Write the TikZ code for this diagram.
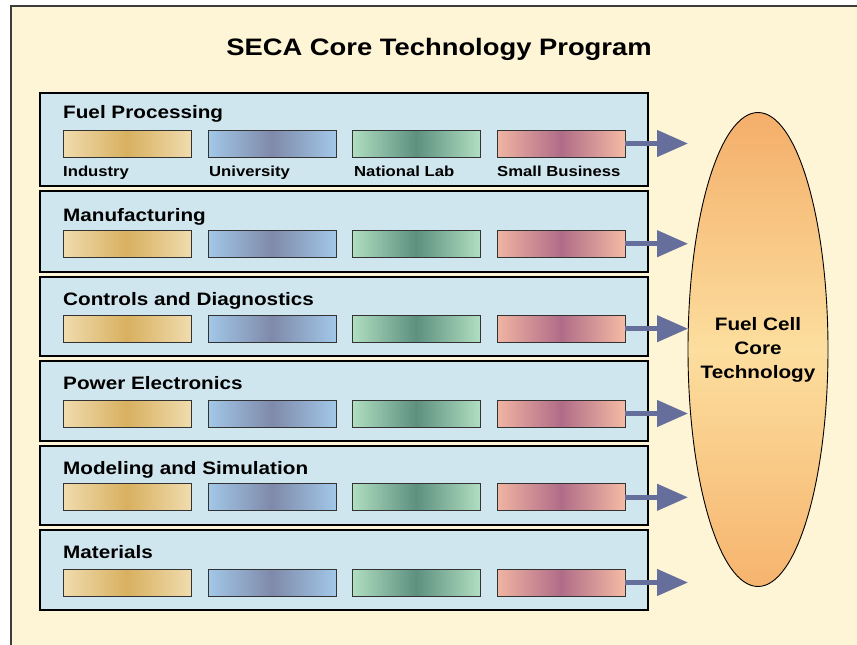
\documentclass[tikz,border=0pt]{standalone}
\usepackage{fontspec}
\setmainfont{Liberation Sans}[FakeStretch=1.15]
\usetikzlibrary{arrows.meta,shapes.geometric,shadows,positioning}
\definecolor{paper}{HTML}{FEF5D6}
\definecolor{frame}{HTML}{3C3C3C}
\definecolor{rowblue}{HTML}{D0E6EE}
\definecolor{flowcol}{HTML}{666E9C}
\definecolor{goldL}{HTML}{F0DCAE}\definecolor{goldM}{HTML}{D8B060}\definecolor{goldR}{HTML}{F0DCAE}
\definecolor{blueL}{HTML}{A2C8E8}\definecolor{blueM}{HTML}{7F89AA}\definecolor{blueR}{HTML}{A2C8E8}
\definecolor{greenL}{HTML}{B0DEC0}\definecolor{greenM}{HTML}{5E9080}\definecolor{greenR}{HTML}{B0DEC0}
\definecolor{pinkL}{HTML}{F0B4A2}\definecolor{pinkM}{HTML}{B06C88}\definecolor{pinkR}{HTML}{F4BBA4}
\definecolor{coreT}{HTML}{F4AE6A}\definecolor{coreM}{HTML}{FCDE9E}\definecolor{coreB}{HTML}{F6B46E}
\begin{document}
\begin{tikzpicture}[x=1pt,y=-1pt]
\tikzstyle{rowbox}=[draw=black, line width=1.1pt, fill=rowblue, minimum width=608pt, inner sep=0pt,
  general shadow={fill=black!40, shadow xshift=1.3pt, shadow yshift=-1.3pt}]
\tikzstyle{rowlabel}=[anchor=base west, inner sep=0pt, font=\fontsize{18}{21}\selectfont\bfseries]
\tikzstyle{sublabel}=[anchor=base west, inner sep=0pt, font=\fontsize{14.5}{17}\selectfont\bfseries]
\tikzstyle{bar}=[draw=black!80, line width=0.9pt, minimum width=128pt, minimum height=27pt, inner sep=0pt]
\tikzstyle{flow}=[draw=flowcol, line width=4.5pt, -{Triangle[length=31pt,width=26pt]}]
\useasboundingbox (0,0) rectangle (857,645);
\fill[white] (0,0) rectangle (857,645);
\draw[frame, line width=1.4pt, fill=paper] (11,6) rectangle (875,665);
\node[anchor=base, inner sep=0pt, font=\fontsize{23.8}{28}\selectfont\bfseries] (head) at (439,55.7)
  {SECA Core Technology Program};
% one row per research topic
\foreach \r/\top/\bot/\lab/\bar/\name in {1/93/186/118.5/143.5/Fuel Processing,
    2/191/272/221/243.7/Manufacturing, 3/277/356/305/328.7/Controls and Diagnostics,
    4/361/441/389.5/413.5/Power Electronics, 5/446/525/474.3/497.3/Modeling and Simulation,
    6/530/610/558.5/582.5/Materials}{
  \node[rowbox, minimum height=(\bot-\top)*1pt] (row\r) at (344,{(\top+\bot)/2}) {};
  \node[rowlabel] (topic\r) at (63,\lab) {\name};
  \foreach \c/\x in {gold/127,blue/272,green/416,pink/561}
    \node[bar, left color=\c L, right color=\c R, middle color=\c M] (b\r\c) at (\x,\bar) {};
  \coordinate (tip\r) at (688,\bar);
  \draw[flow] (b\r pink.east) -- (tip\r);
}
\node[sublabel] (lgold) at (63,176.7) {Industry};
\node[sublabel] (lblue) at (209,176.7) {University};
\node[sublabel] (lgreen) at (354,176.7) {National Lab};
\node[sublabel] (lpink) at (497,176.7) {Small Business};
\node[draw=black, line width=0.9pt, ellipse, inner sep=0pt, minimum width=140pt, minimum height=474pt,
  top color=coreT, bottom color=coreB, middle color=coreM] (core) at (758,349.5) {};
\node[align=center, inner sep=0pt, font=\fontsize{18}{24}\selectfont\bfseries] (coretext) at (core)
  {Fuel Cell\\Core\\Technology};
\end{tikzpicture}
\end{document}
